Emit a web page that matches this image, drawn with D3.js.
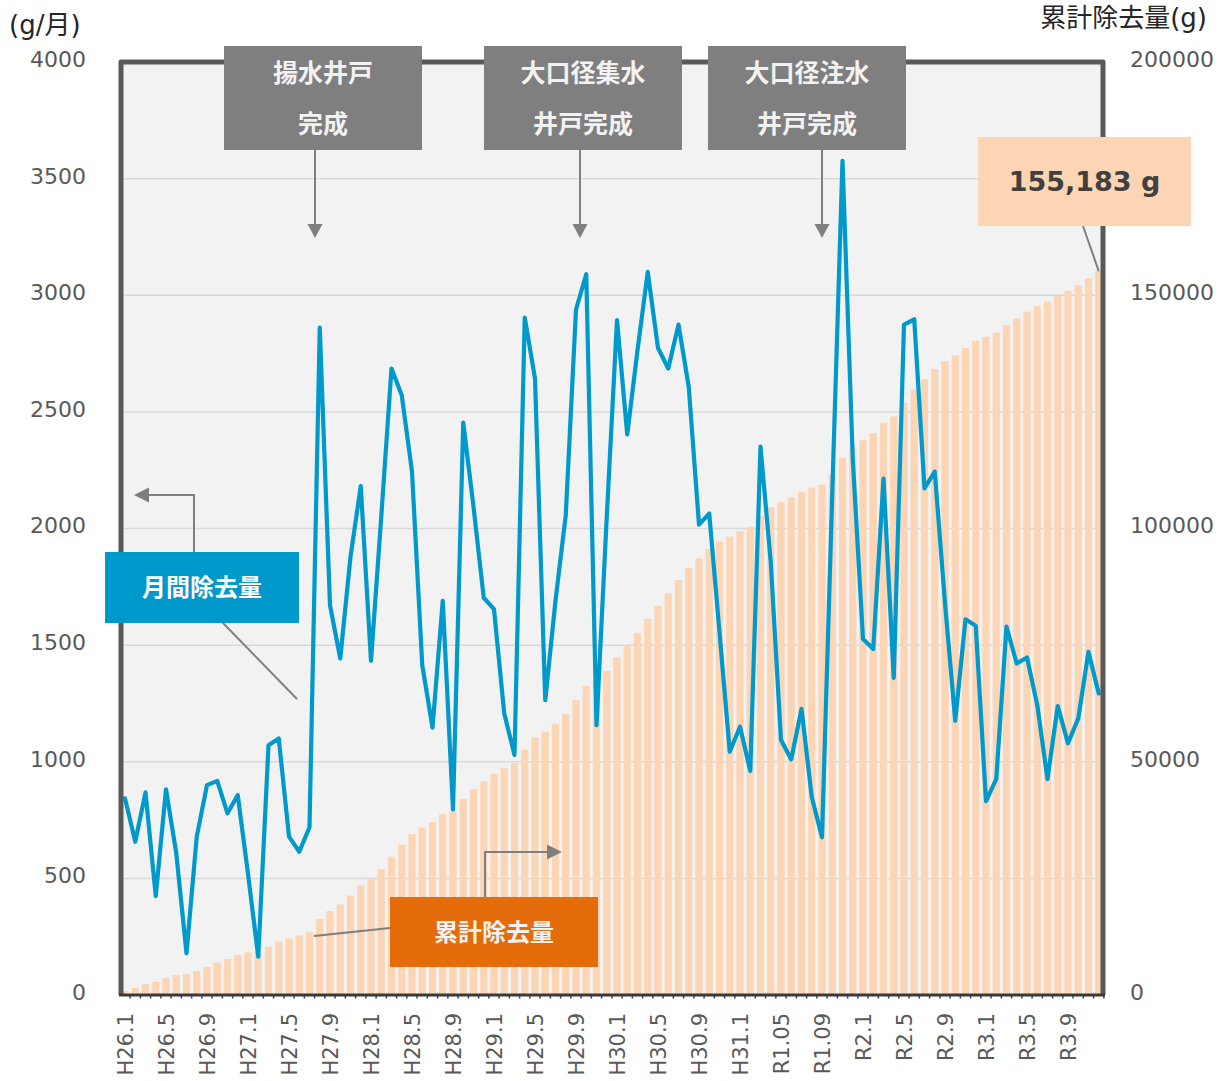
<!DOCTYPE html>
<html>
<head>
<meta charset="utf-8">
<script src="https://cdn.jsdelivr.net/npm/d3@7/dist/d3.min.js"></script>
<style>
  body { margin: 0; background: #fff; }
  svg text { font-family: "DejaVu Sans", "Noto Sans CJK JP", sans-serif; }
</style>
</head>
<body>
<svg id="chart" width="1229" height="1081"></svg>
<script>
var months = [
  "H26.1","H26.2","H26.3","H26.4","H26.5","H26.6","H26.7","H26.8","H26.9","H26.10","H26.11","H26.12",
  "H27.1","H27.2","H27.3","H27.4","H27.5","H27.6","H27.7","H27.8","H27.9","H27.10","H27.11","H27.12",
  "H28.1","H28.2","H28.3","H28.4","H28.5","H28.6","H28.7","H28.8","H28.9","H28.10","H28.11","H28.12",
  "H29.1","H29.2","H29.3","H29.4","H29.5","H29.6","H29.7","H29.8","H29.9","H29.10","H29.11","H29.12",
  "H30.1","H30.2","H30.3","H30.4","H30.5","H30.6","H30.7","H30.8","H30.9","H30.10","H30.11","H30.12",
  "H31.1","H31.2","H31.3","H31.4","R1.05","R1.06","R1.07","R1.08","R1.09","R1.10","R1.11","R1.12",
  "R2.1","R2.2","R2.3","R2.4","R2.5","R2.6","R2.7","R2.8","R2.9","R2.10","R2.11","R2.12",
  "R3.1","R3.2","R3.3","R3.4","R3.5","R3.6","R3.7","R3.8","R3.9","R3.10","R3.11","R3.12"
];

var tickLabels = ["H26.1","H26.5","H26.9","H27.1","H27.5","H27.9","H28.1","H28.5","H28.9",
  "H29.1","H29.5","H29.9","H30.1","H30.5","H30.9","H31.1","R1.05","R1.09",
  "R2.1","R2.5","R2.9","R3.1","R3.5","R3.9"];

// g/month
var monthly = [
  843, 657, 869, 424, 882, 608, 179, 679, 900, 918, 779, 857,
  520, 164, 1071, 1100, 679, 614, 719, 2861, 1671, 1443, 1879, 2182,
  1433, 2050, 2686, 2571, 2243, 1414, 1146, 1690, 796, 2454, 2093, 1703,
  1654, 1207, 1029, 2904, 2643, 1264, 1690, 2057, 2939, 3090, 1157, 2050,
  2893, 2403, 2764, 3100, 2774, 2686, 2874, 2607, 2017, 2064, 1556, 1043,
  1150, 961, 2351, 1856, 1093, 1010, 1227, 849, 676, 2150, 3576, 2300,
  1526, 1483, 2214, 1360, 2874, 2897, 2172, 2244, 1680, 1176, 1611, 1583,
  831, 926, 1579, 1421, 1447, 1243, 926, 1239, 1079, 1186, 1471, 1293
];

// g, running total
var cumulative = [
  843, 1500, 2369, 2793, 3675, 4283, 4462, 5141, 6041, 6959, 7738, 8595,
  9115, 9279, 10350, 11450, 12129, 12743, 13462, 16323, 17994, 19437, 21316, 23498,
  24931, 26981, 29667, 32238, 34481, 35895, 37041, 38731, 39527, 41981, 44074, 45777,
  47431, 48638, 49667, 52571, 55214, 56478, 58168, 60225, 63164, 66254, 67411, 69461,
  72354, 74757, 77521, 80621, 83395, 86081, 88955, 91562, 93579, 95643, 97199, 98242,
  99392, 100353, 102704, 104560, 105653, 106663, 107890, 108739, 109415, 111565, 115141, 117441,
  118967, 120450, 122664, 124024, 126898, 129795, 131967, 134211, 135891, 137067, 138678, 140261,
  141092, 142018, 143597, 145018, 146465, 147708, 148634, 149873, 150952, 152138, 153609, 155183
];

var leftTicks = [0, 500, 1000, 1500, 2000, 2500, 3000, 3500, 4000];
var rightTicks = [0, 50000, 100000, 150000, 200000];
var events = [["揚水井戸", "完成"], ["大口径集水", "井戸完成"], ["大口径注水", "井戸完成"]];
var totalText = "155,183 g";

var svg = d3.select("#chart");
var plotLeft = 121, plotRight = 1103, plotTop = 62, plotBottom = 995;
var grey = "#7f7f7f";

var x = d3.scalePoint().domain(months).range([125, 1098.75]);
var yL = d3.scaleLinear().domain([0, 4000]).range([plotBottom, plotTop]);
var yR = d3.scaleLinear().domain([0, 200000]).range([plotBottom, plotTop]);

svg.append("defs").append("clipPath").attr("id", "inner")
  .append("rect")
  .attr("x", plotLeft).attr("y", plotTop)
  .attr("width", plotRight - plotLeft).attr("height", plotBottom - plotTop);

svg.append("rect")
  .attr("x", plotLeft).attr("y", plotTop)
  .attr("width", plotRight - plotLeft).attr("height", plotBottom - plotTop)
  .style("fill", "#f2f2f2");

svg.append("g").selectAll("line")
  .data(leftTicks.filter(function(d) { return d > 0 && d < 4000; }))
  .enter().append("line")
  .attr("x1", plotLeft).attr("x2", plotRight)
  .attr("y1", function(d) { return yL(d); })
  .attr("y2", function(d) { return yL(d); })
  .style("stroke", "#d9d9d9")
  .style("stroke-width", 1.5);

svg.append("g").attr("clip-path", "url(#inner)")
  .selectAll("rect")
  .data(cumulative)
  .enter().append("rect")
  .attr("x", function(d, i) { return x(months[i]) - 3.6; })
  .attr("y", function(d) { return yR(d); })
  .attr("width", 7.2)
  .attr("height", function(d) { return plotBottom - yR(d); })
  .style("fill", "#fcd5b4");

var line = d3.line()
  .x(function(d, i) { return x(months[i]); })
  .y(function(d) { return yL(d); });

svg.append("path")
  .datum(monthly)
  .attr("d", line)
  .style("fill", "none")
  .style("stroke", "#0099cc")
  .style("stroke-width", 4.2)
  .style("stroke-linejoin", "round")
  .style("stroke-linecap", "round");

// frame
svg.append("path")
  .attr("d", "M" + plotLeft + "," + plotBottom + "V" + plotTop + "H" + plotRight + "V" + plotBottom)
  .style("fill", "none")
  .style("stroke", "#595959")
  .style("stroke-width", 5)
  .style("stroke-linejoin", "round");

svg.append("g").selectAll("line")
  .data(months)
  .enter().append("line")
  .attr("x1", function(d) { return x(d) + 5.1; })
  .attr("x2", function(d) { return x(d) + 5.1; })
  .attr("y1", plotBottom).attr("y2", plotBottom + 3.5)
  .style("stroke", "#404040")
  .style("stroke-width", 1.5);

svg.append("line")
  .attr("x1", plotLeft - 2).attr("x2", plotRight + 2)
  .attr("y1", plotBottom).attr("y2", plotBottom)
  .style("stroke", "#3a3a3a")
  .style("stroke-width", 3);

// axes
function styleAxis(g) {
  g.select(".domain").remove();
  g.selectAll("text")
    .style("fill", "#595959")
    .style("font-size", "22px")
    .style("font-family", "'DejaVu Sans', sans-serif");
}

svg.append("g")
  .attr("transform", "translate(" + plotLeft + ",0)")
  .call(d3.axisLeft(yL).tickValues(leftTicks).tickSize(0).tickPadding(35).tickFormat(d3.format("d")))
  .call(styleAxis)
  .selectAll("text").attr("dy", "0.2em");

svg.append("g")
  .attr("transform", "translate(" + plotRight + ",0)")
  .call(d3.axisRight(yR).tickValues(rightTicks).tickSize(0).tickPadding(27).tickFormat(d3.format("d")))
  .call(styleAxis)
  .selectAll("text").attr("dy", "0.2em");

var xAxis = svg.append("g")
  .attr("transform", "translate(0," + plotBottom + ")")
  .call(d3.axisBottom(x).tickValues(tickLabels).tickSize(0))
  .call(styleAxis);

xAxis.selectAll("text")
  .attr("transform", "rotate(-90)")
  .attr("text-anchor", "end")
  .attr("x", -18)
  .attr("y", 0)
  .attr("dy", "0.36em")
  .style("font-size", "21px");

svg.append("text")
  .attr("x", 9).attr("y", 25)
  .attr("dy", "0.35em")
  .style("font-size", "26px")
  .style("fill", "#262626")
  .text("(g/月)");

svg.append("text")
  .attr("x", 1207).attr("y", 18)
  .attr("dy", "0.35em")
  .attr("text-anchor", "end")
  .style("font-size", "26px")
  .style("fill", "#262626")
  .text("累計除去量(g)");

// helpers for callouts
function arrowHead(cx, cy, dir) {
  var p;
  if (dir === "down") p = [[cx - 7.5, cy - 14], [cx + 7.5, cy - 14], [cx, cy]];
  if (dir === "left") p = [[cx + 15, cy - 7.5], [cx + 15, cy + 7.5], [cx, cy]];
  if (dir === "right") p = [[cx - 15, cy - 7.5], [cx - 15, cy + 7.5], [cx, cy]];
  svg.append("path")
    .attr("d", "M" + p.join("L") + "Z")
    .style("fill", grey);
}

function connector(pts) {
  svg.append("path")
    .attr("d", "M" + pts.join("L"))
    .style("fill", "none")
    .style("stroke", grey)
    .style("stroke-width", 2);
}

function labelBox(x0, y0, w, h, color, lines, textColor, size) {
  svg.append("rect")
    .attr("x", x0).attr("y", y0)
    .attr("width", w).attr("height", h)
    .style("fill", color);
  var step = 51;
  var start = y0 + h / 2 - (lines.length - 1) * step / 2;
  lines.forEach(function(t, i) {
    svg.append("text")
      .attr("x", x0 + w / 2)
      .attr("y", start + i * step)
      .attr("dy", "0.36em")
      .attr("text-anchor", "middle")
      .style("font-size", size + "px")
      .style("font-weight", "bold")
      .style("fill", textColor)
      .text(t);
  });
}

// well completion notes
var boxLeft = [224, 484, 708];
var arrowX = [315, 580, 822];
events.forEach(function(ev, i) {
  connector([[arrowX[i], 150], [arrowX[i], 226]]);
  arrowHead(arrowX[i], 238, "down");
  labelBox(boxLeft[i], 46, 198, 104, grey, ev, "#f2f2f2", 25);
});

// monthly series label
connector([[194, 553], [194, 495], [148, 495]]);
arrowHead(134, 495, "left");
connector([[222, 622], [297, 699]]);
labelBox(105, 552, 194, 71, "#0099cc", ["月間除去量"], "#ffffff", 24);

// cumulative series label
connector([[485, 897], [485, 852], [548, 852]]);
arrowHead(562, 852, "right");
connector([[390, 928], [314, 936]]);
labelBox(390, 897, 208, 70, "#e46c0a", ["累計除去量"], "#f2f2f2", 24);

// total
var lastX = x(months[months.length - 1]);
connector([[1083, 226], [lastX, yR(cumulative[cumulative.length - 1])]]);
labelBox(978, 137, 213, 89, "#fcd5b4", [totalText], "#404040", 27);
</script>
</body>
</html>
